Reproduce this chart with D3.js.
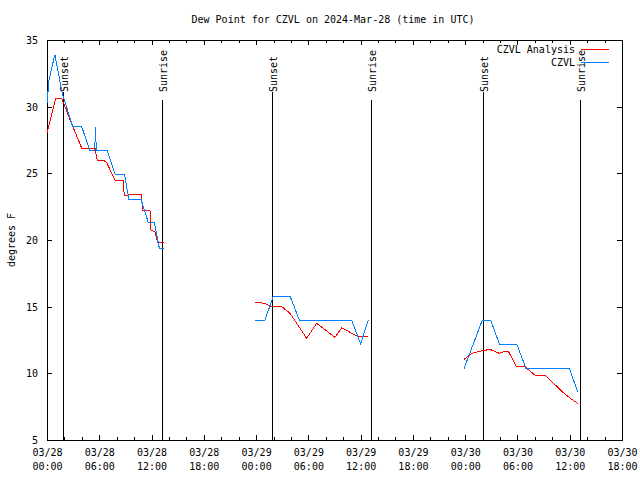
<!DOCTYPE html>
<html><head><meta charset="utf-8">
<script src="https://cdn.jsdelivr.net/npm/d3@7"></script>
<style>
html,body{margin:0;padding:0;background:#fff;}
text{font-family:"DejaVu Sans Mono","Liberation Mono",monospace;font-size:10px;fill:#000;}
</style></head>
<body><svg id="chart" width="640" height="480"></svg>
<script>
// ---- data (hours after 2024-03-28 00:00 UTC; null = gap) ----
const obsHours = [0,0.23,0.9,1.75,2.95,3.98,4.93,5.5,5.53,5.6,5.66,6.9,7.84,8.9,9.4,10.79,11.63,12.32,12.89,13.46,null,
  23.87,25.02,25.98,27.9,28.96,34.97,36.0,36.88,null,
  47.87,49.97,50.93,51.92,53.92,54.98,59.95,60.92];
const obsValues = [30.25,32.0,33.9,31.0,28.5,28.5,26.7,26.7,28.5,27.9,26.7,26.7,24.9,24.9,23.05,23.05,21.3,21.3,19.4,19.4,null,
  14.0,14.0,15.8,15.8,14.0,14.0,12.2,14.0,null,
  10.37,14.0,14.0,12.2,12.2,10.37,10.37,8.62];
const anaHours = [0,1.0,1.7,2.9,3.98,5.5,5.77,6.46,6.85,7.8,8.76,8.87,9.4,10.87,10.94,11.82,11.94,12.4,12.7,13.46,null,
  23.87,25.02,25.79,26.94,27.9,29.8,30.95,33.06,33.83,35.35,36.0,36.88,null,
  47.87,48.17,48.74,49.5,50.07,50.83,51.92,52.38,52.95,53.83,54.75,56.0,57.17,57.74,59.27,60.23,60.92];
const anaValues = [28.0,30.6,30.6,28.6,26.9,26.9,26.0,26.0,25.8,24.5,24.5,23.3,23.4,23.4,22.25,22.25,20.75,20.6,19.8,19.8,null,
  15.33,15.25,15.0,15.0,14.5,12.63,13.75,12.7,13.42,12.875,12.75,12.75,null,
  11.05,11.2,11.5,11.63,11.7,11.8,11.5,11.6,11.67,10.55,10.55,9.875,9.85,9.5,8.55,8.05,7.75];
const sunsetHours = [1.85,25.85,50.0];
const sunriseHours = [13.2,37.2,61.2];
const yTicks = [5,10,15,20,25,30,35];
const xMajorStepHours = 6, xMinorStepHours = 2, xSpanHours = 66;
const seriesNames = ["CZVL Analysis","CZVL"];
const seriesColors = ["#ff0000","#0080ff"];
const titleText = "Dew Point for CZVL on 2024-Mar-28 (time in UTC)";
const yLabel = "degrees F";

// ---- setup ----
const START = Date.UTC(2024,2,28);
const hr = h => new Date(START + h*3600e3);
const L=47,R=622,T=40,B=440;
const svg = d3.select("#chart");
const x = d3.scaleUtc().domain([hr(0),hr(xSpanHours)]).range([L,R]);
const y = d3.scaleLinear().domain([5,35]).range([B,T]);

const majorT = d3.range(0,xSpanHours+0.001,xMajorStepHours).map(hr);
const minorT = d3.range(0,xSpanHours+0.001,xMinorStepHours).filter(h=>h%xMajorStepHours!==0).map(hr);

const g = svg.append("g").attr("shape-rendering","crispEdges");

// x ticks bottom/top
const fD = d3.utcFormat("%m/%d"), fT = d3.utcFormat("%H:%M");
const xb = g.append("g").attr("transform",`translate(0,${B})`)
  .call(d3.axisBottom(x).tickValues(majorT).tickSizeInner(-5).tickSizeOuter(0).tickPadding(0));
xb.select(".domain").remove();
xb.selectAll(".tick line").attr("stroke","#000");
xb.selectAll(".tick text").each(function(d){
  const t=d3.select(this); t.text(null).attr("y",0).attr("dy",null);
  t.append("tspan").attr("x",0).attr("y",16).text(fD(d));
  t.append("tspan").attr("x",0).attr("y",30).text(fT(d));
}).style("font-family",null).style("font-size",null).attr("font-family",null).attr("font-size",null);
xb.attr("font-family",null).attr("font-size",null);
g.append("g").attr("transform",`translate(0,${B})`)
  .call(d3.axisBottom(x).tickValues(minorT).tickSizeInner(-3).tickSizeOuter(0).tickFormat(""))
  .call(s=>s.select(".domain").remove());
g.append("g").attr("transform",`translate(0,${T})`)
  .call(d3.axisTop(x).tickValues(majorT).tickSizeInner(-5).tickSizeOuter(0).tickFormat(""))
  .call(s=>s.select(".domain").remove());
g.append("g").attr("transform",`translate(0,${T})`)
  .call(d3.axisTop(x).tickValues(minorT).tickSizeInner(-3).tickSizeOuter(0).tickFormat(""))
  .call(s=>s.select(".domain").remove());

// y ticks left/right
const yl = g.append("g").attr("transform",`translate(${L},0)`)
  .call(d3.axisLeft(y).tickValues(yTicks).tickSizeInner(-5).tickSizeOuter(0).tickPadding(0));
yl.select(".domain").remove();
yl.attr("font-family",null).attr("font-size",null);
yl.selectAll(".tick text").attr("x",-9).attr("dy","0.35em");
g.append("g").attr("transform",`translate(${R},0)`)
  .call(d3.axisRight(y).tickValues(yTicks).tickSizeInner(-5).tickSizeOuter(0).tickFormat(""))
  .call(s=>s.select(".domain").remove());
g.selectAll(".tick line").attr("stroke","#000");

// sunrise / sunset
const ev = sunsetHours.map(h=>({h,label:"Sunset",top:92})).concat(sunriseHours.map(h=>({h,label:"Sunrise",top:100})));
g.selectAll("line.ev").data(ev).join("line").attr("class","ev")
  .attr("x1",d=>Math.round(x(hr(d.h)))+0.5).attr("x2",d=>Math.round(x(hr(d.h)))+0.5)
  .attr("y1",B).attr("y2",d=>d.top).attr("stroke","#000").attr("stroke-width",1);
svg.selectAll("text.ev").data(ev).join("text").attr("class","ev")
  .attr("transform",d=>`translate(${Math.round(x(hr(d.h)))+0.5},92) rotate(-90)`)
  .attr("dy","0.4em").attr("text-anchor","start").text(d=>d.label);

// data lines
const mk = (hs,vs)=>hs.map((h,i)=>({h,v:vs[i]}));
const line = d3.line().defined(d=>d.h!==null && d.v!==null).x(d=>x(hr(d.h))).y(d=>y(d.v));
const series = [mk(anaHours,anaValues), mk(obsHours,obsValues)];
svg.append("g").selectAll("path").data(series).join("path")
  .attr("d",line).attr("fill","none").attr("stroke",(d,i)=>seriesColors[i]).attr("stroke-width",1)
  .attr("shape-rendering","crispEdges");

// border
g.append("rect").attr("x",L+0.5).attr("y",T+0.5).attr("width",R-L).attr("height",B-T)
  .attr("fill","none").attr("stroke","#000");

// legend
seriesNames.forEach((n,i)=>{
  const yy = 49 + i*13;
  svg.append("text").attr("x",575).attr("y",yy).attr("dy","0.35em").attr("text-anchor","end").text(n);
  svg.append("line").attr("x1",581).attr("x2",609).attr("y1",yy+0.5).attr("y2",yy+0.5)
    .attr("stroke",seriesColors[i]).attr("shape-rendering","crispEdges");
});

// title & y label
svg.append("text").attr("x",333).attr("y",19).attr("dy","0.35em").attr("text-anchor","middle").text(titleText);
svg.append("text").attr("transform","translate(11,240) rotate(-90)").attr("dy","0.35em").attr("text-anchor","middle").text(yLabel);
</script></body></html>
